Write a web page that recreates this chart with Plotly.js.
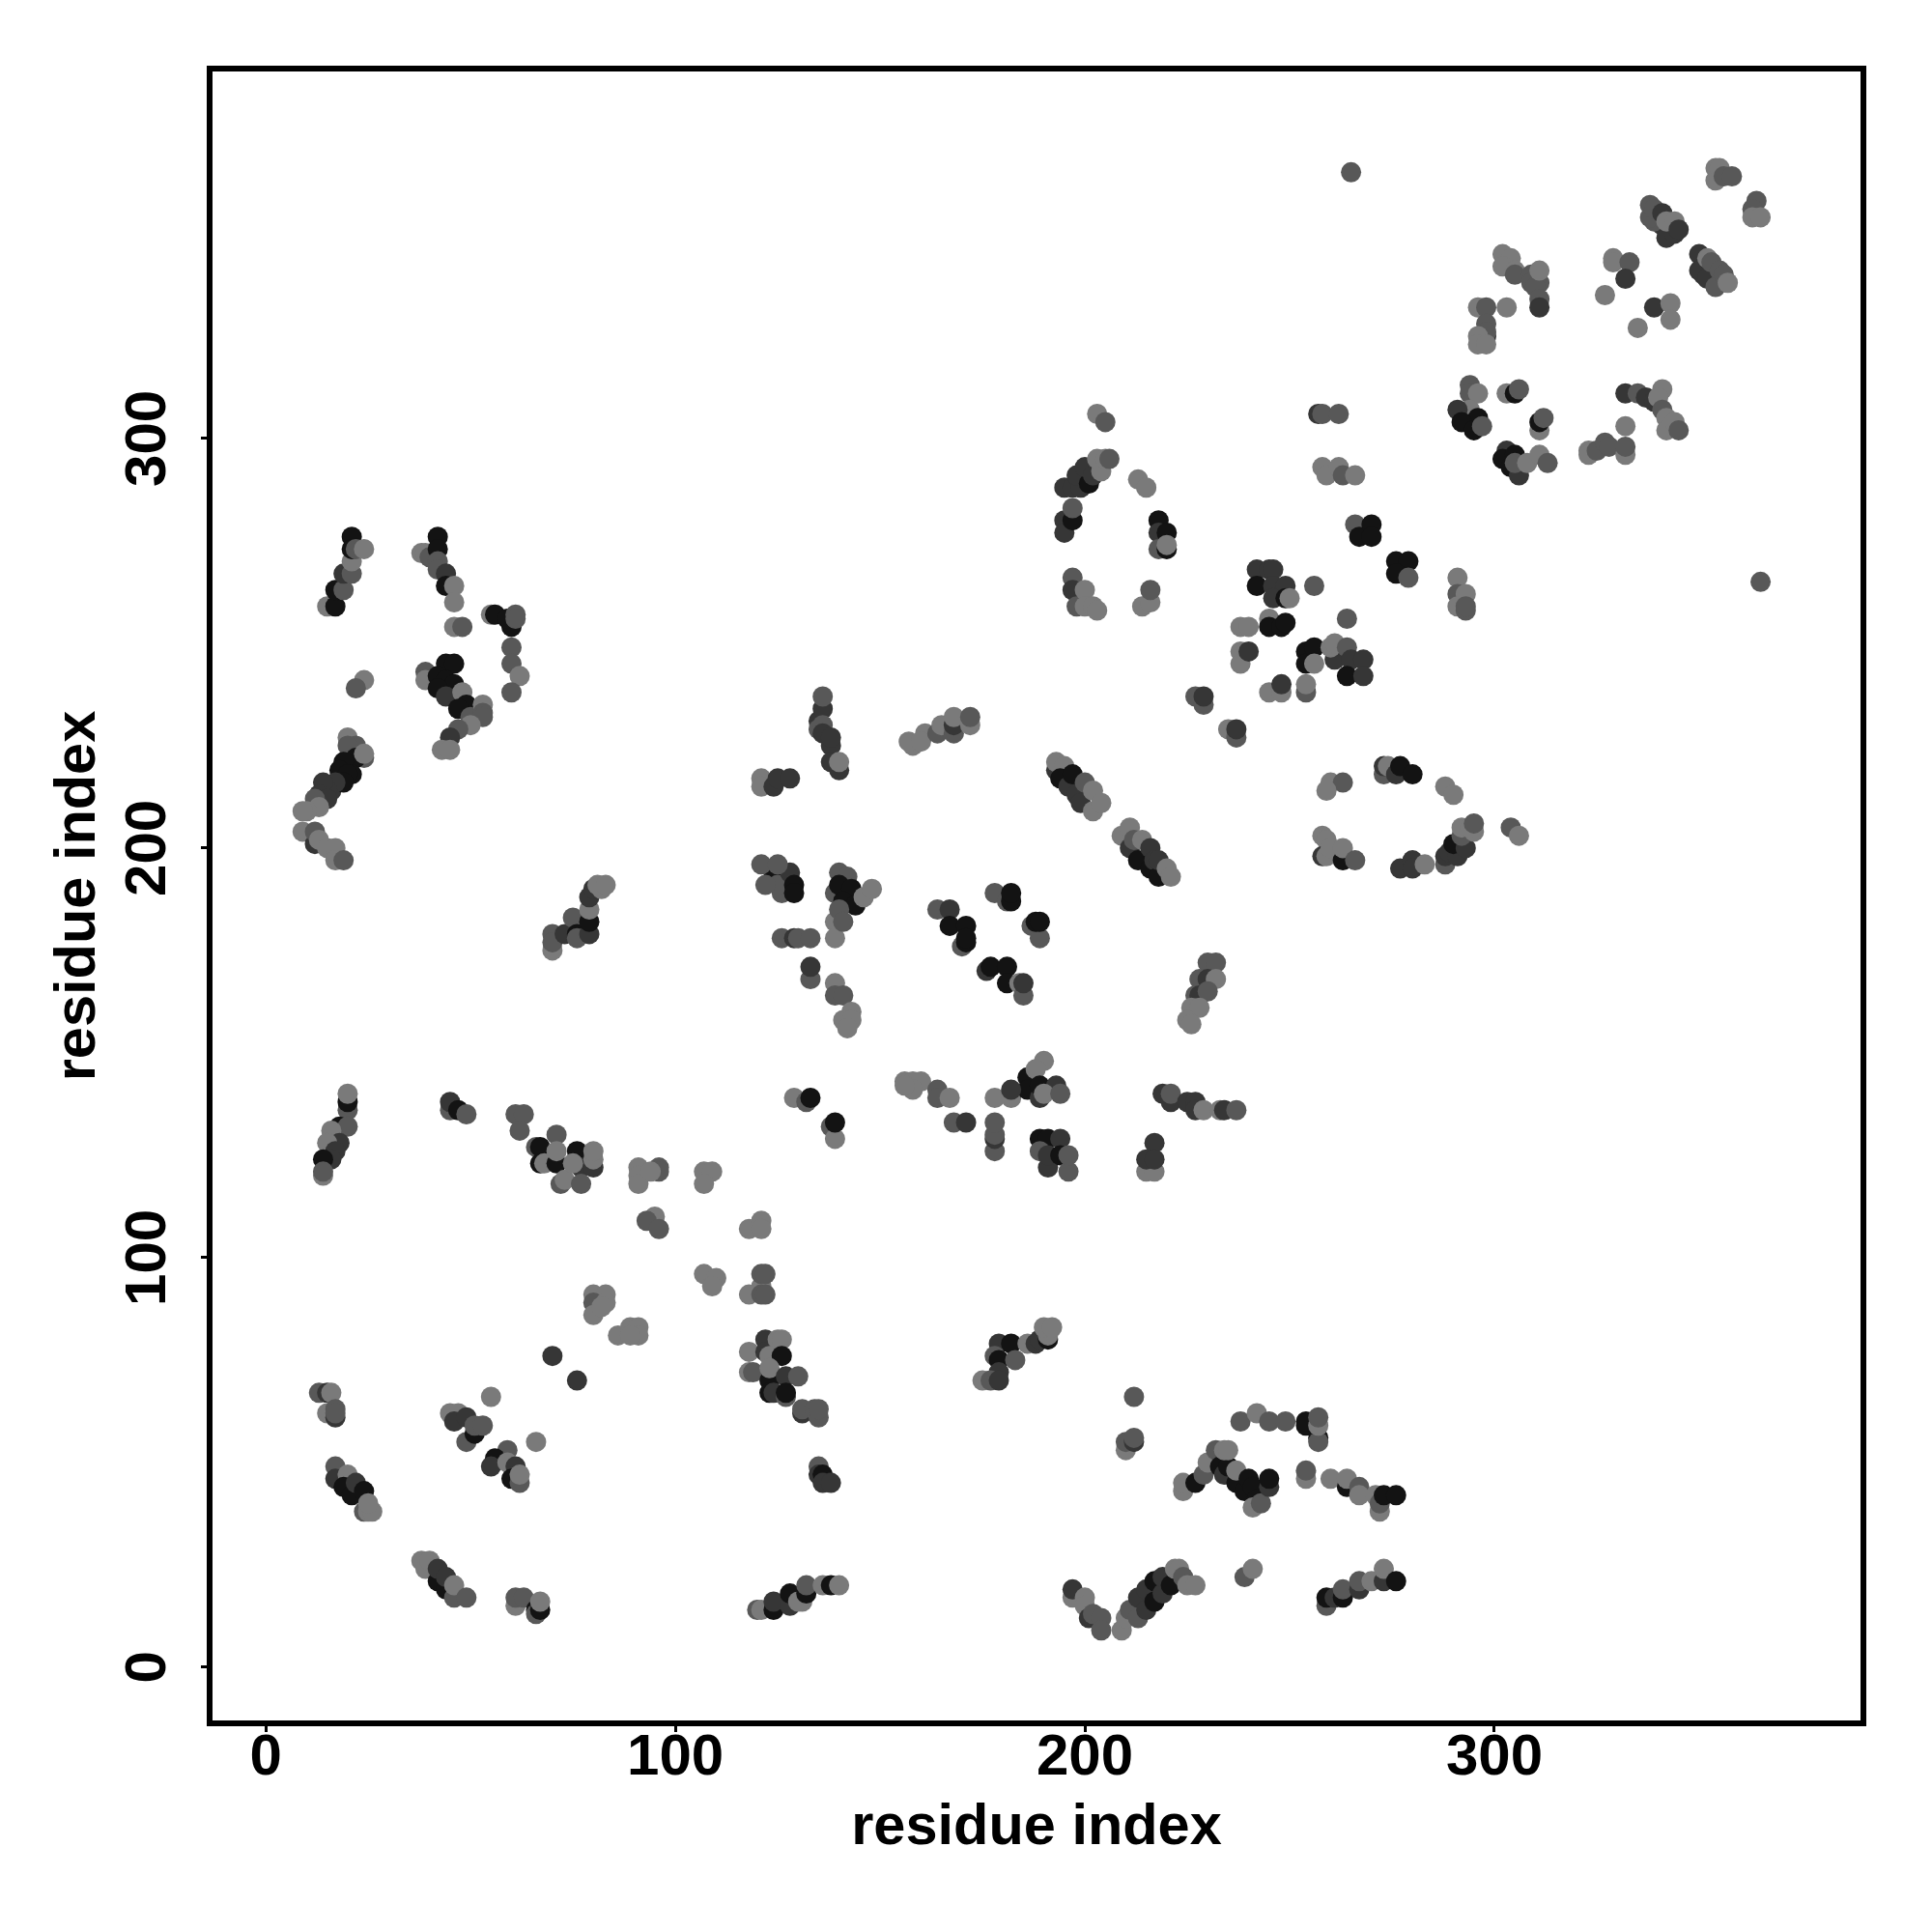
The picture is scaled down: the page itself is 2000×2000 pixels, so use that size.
<!DOCTYPE html>
<html>
<head>
<meta charset="utf-8">
<script src="https://cdn.plot.ly/plotly-3.0.1.min.js"></script>
<style>html,body{margin:0;padding:0;background:#fff}#chart{width:2000px;height:2000px}</style>
</head>
<body>
<div id="chart"></div>
<script>
const residueI = [
340,341,343,351,351,353,355,339,16,18,14,238,236,
15,17,17,19,19,21,21,21,21,22,24,
38,39,40,42,42,42,42,44,44,46,46,46,48,
55,56,60,59,61,61,60,60,62,60,
39,39,44,46,42,44,46,42,44,48,49,47,50,53,53,53,50,47,45,43,45,
24,22,
20,22,20,24,22,19,21,18,20,19,17,15,14,13,15,12,13,10,9,24,
9,12,12,13,15,17,17,19,
70,70,70,73,75,76,76,79,79,79,79,80,82,81,83,
20,20,20,18,20,16,18,15,17,16,14,14,14,
45,45,47,49,
61,63,62,
71,66,67,67,68,71,76,77,80,71,72,73,75,77,80,80,
91,91,91,96,96,94,
95,93,96,
80,83,80,83,80,82,
86,89,91,91,89,
70,76,55,
13,15,16,15,17,17,17,
45,47,46,49,49,51,51,53,
66,59,56,55,59,61,60,62,62,
17,17,20,19,21,22,24,24,25,26,25,
38,39,40,42,44,42,44,46,46,49,
61,61,63,66,66,67,67,
135,136,136,135,136,136,138,138,138,140,140,
121,121,124,125,128,
158,157,161,160,164,165,168,168,168,172,172,
193,193,195,194,196,197,198,199,200,202,202,204,
209,211,211,213,212,214,216,216,217,218,218,220,221,
124,126,125,128,129,129,121,122,125,
139,140,142,140,143,141,144,146,148,139,139,140,141,
126,129,130,133,
133,133,
139,139,141,143,141,143,142,
164,167,167,171,170,171,171,
178,181,182,182,
187,189,188,189,
176,177,181,181,184,185,185,
129,132,133,
138,139,139,
107,109,107,
118,121,121,
107,110,109,
121,118,121,122,121,122,
122,118,122,125,126,123,126,118,119,123,123,124,123,127,130,127,127,
131,131,134,135,135,
156,158,160,158,156,
164,164,167,
168,171,
178,182,
178,178,178,178,
190,186,188,186,182,189,189,193,190,194,
189,191,194,189,191,191,194,196,196,
217,215,217,215,217,
212,
179,182,186,188,189,191,191,190,192,
178,179,183,179,175,177,179,
135,135,136,136,138,
120,121,124,124,128,128,131,130,132,132,136,138,140,
203,205,
195,197,199,198,201,200,202,204,203,205,206,
213,215,
195,195,197,197,
218,218,220,218,220,220,
197,197,198,200,200,202,203,
214,216,216,
257,258,262,
258,259,262,263,266,
266,267,270,270,
276,279,276,279,
291,291,291,293,293,293,
242,245,246,242,246,249,246,249,250,
256,264,238,240,
245,245,248,249,
238,238,240,
254,254,256,256,
261,260,261,264,265,268,264,268,
245,248,248,254,254,
227,229,229,
235,237,237,
265,365,
354,354,355,356,358,
364,363,363,365,
338,338,339,342,344,341,342,344,345,
350,350,352,352,353,355,354,356,357,
302,304,302,305,305,309,309,311,310,311,311,311,
296,298,303,298,298,298,296,296,298,
329,329,333,332,327,
339,343,343,335,
294,294,296,294,291,296,292,295,297,
303,305,306,
311,311,312,
332,335,337,339,341,340,341,342,342,344,345,332,
323,323,325,327,328,332,332,
303,302,304,305,306,305,308,311,313,
260,263,259,
273,273,274,276,277,280,
288,290,304,306,
258,259,258,259,260,263,263,266,
277,280,280,283,
288,288,289,291,290,293,292,292,295,294,295,
230,232,228,230,232,227,228,230,226,228,225,226,
219,221,221,225,227,227,229,233,234,237,
210,210,212,212,
238,242,245,249,
254,254,257,257,257,257,
254,254,
260,264,264,267,267,271,272,272,273,276,
224,224,227,229,230,
232,233,234,235,234,235,237,237,239,240,241,242,241,243,245,245,
197,197,200,200,201,202,204,204,
209,210,211,213,213,215,215,217,217,219,219,221,222,223,224,225,227,
239,241,
259,259,261,263,263,267,267,270,273,273,276
];
const residueJ = [
355,352,351,343,340,339,338,353,214,217,213,46,48,
259,259,263,263,267,267,270,276,273,273,273,
272,272,271,276,273,270,268,267,264,264,260,254,254,
257,257,254,256,257,256,249,245,242,238,
243,241,245,245,242,241,240,239,237,238,235,234,232,235,233,232,230,229,227,224,224,
241,239,
227,225,225,222,222,221,218,219,218,216,216,214,216,213,212,212,210,209,209,223,
204,201,204,202,200,200,197,197,
179,175,177,179,183,179,178,179,182,185,188,190,190,191,191,
136,138,140,132,132,131,128,128,126,124,124,120,121,
136,138,136,135,
135,135,131,
130,127,127,123,123,123,126,122,122,126,118,119,123,118,124,126,
122,120,118,122,121,121,
110,109,107,
91,91,89,89,86,88,
81,83,83,81,81,
76,70,66,
67,67,67,62,63,61,62,
62,62,60,61,55,57,59,59,
55,53,51,49,50,49,46,45,47,
49,46,47,44,42,45,43,38,38,38,40,
26,24,26,21,19,24,22,17,20,17,
15,17,17,14,13,14,16,
231,234,237,229,230,228,225,227,221,219,221,
217,215,215,217,217,
225,226,228,226,228,230,228,230,232,230,232,
219,221,220,217,215,218,213,211,216,209,214,211,
203,205,200,197,202,202,195,200,197,193,197,195,193,
193,189,191,194,191,189,196,191,196,
189,194,193,191,190,187,186,188,190,182,178,185,182,
178,178,178,178,
168,171,
167,164,164,160,158,158,156,
185,185,181,181,176,177,178,
189,187,187,189,
181,178,182,182,
170,171,171,167,167,164,167,
139,138,139,
132,129,133,
121,121,118,
107,109,107,
96,95,93,
93,91,96,96,91,91,
80,77,77,80,80,76,76,72,72,70,67,67,73,71,71,66,67,
62,63,63,61,63,
143,143,143,141,142,
141,139,139,
133,133,
139,139,
126,129,130,133,
148,144,146,141,141,139,142,142,140,140,
129,129,129,126,122,125,125,121,125,
128,121,121,124,124,
66,
79,79,79,79,80,80,81,83,83,
76,75,75,72,70,70,70,
49,47,47,45,45,
14,14,14,16,15,18,16,16,18,20,20,20,20,
306,304,
288,288,288,291,289,293,291,292,295,295,295,
290,288,
280,277,280,283,
280,277,277,273,273,274,
266,263,259,263,259,259,258,
259,260,263,
306,306,306,
293,291,293,291,291,
279,276,279,276,
270,270,267,266,
266,262,259,262,258,259,
268,268,268,264,264,264,261,261,261,
264,256,254,254,
256,254,254,255,
248,245,248,
248,245,249,245,
246,249,250,249,246,246,242,242,
238,238,240,238,240,
237,235,237,
229,227,229,
365,265,
363,366,366,364,364,
358,356,354,354,
354,357,356,349,350,355,353,353,351,
345,341,344,339,343,341,337,340,338,
345,344,342,341,340,340,338,338,337,334,332,341,
332,332,332,328,325,326,325,323,323,
344,343,343,339,335,
332,333,329,327,
313,311,311,307,307,305,304,302,303,
311,311,312,
302,304,305,
311,311,310,309,312,310,307,305,302,304,302,303,
297,296,297,299,298,296,298,
297,295,293,296,291,294,294,296,294,
216,216,214,
218,220,220,218,220,218,
215,213,205,203,
203,202,198,198,200,197,200,197,
195,197,195,196,
196,198,199,198,201,200,203,205,204,205,206,
172,172,168,168,168,164,164,165,161,161,158,157,
140,138,140,138,138,136,136,136,136,136,
53,55,55,56,
60,62,60,60,
59,60,56,55,59,61,
46,48,
46,44,46,44,42,42,38,40,42,42,
43,45,45,47,50,
53,49,47,49,53,53,45,48,43,46,44,41,39,40,44,46,
17,19,17,15,12,13,12,9,
9,12,14,12,17,14,19,16,21,18,22,20,24,24,22,20,20,
22,24,
15,17,17,17,19,19,21,21,21,24,21
];
const shadeScore = [
7,4,4,4,4,7,7,7,4,1,4,1,1,
10,1,1,7,4,7,10,1,1,7,10,
10,10,7,1,1,7,7,4,1,10,10,10,7,
10,1,1,1,7,7,7,7,10,7,
7,10,1,1,1,1,1,1,4,10,1,1,7,10,7,7,10,7,4,10,10,
10,7,
10,7,7,7,1,1,1,1,1,1,4,4,4,4,4,7,10,10,10,10,
10,4,7,10,10,10,10,7,
7,10,7,4,7,1,7,4,1,10,4,4,10,10,10,
7,1,10,1,7,10,4,10,4,4,1,10,7,
7,4,1,7,
7,7,7,
7,7,1,1,10,1,1,4,4,10,7,10,10,7,10,10,
10,10,10,7,7,10,
10,7,7,
10,10,7,10,10,10,
10,10,10,10,10,
4,4,10,
7,4,10,10,7,4,7,
10,10,4,4,7,1,7,7,
10,7,1,4,10,4,1,7,10,
7,4,10,1,1,4,1,7,10,10,10,
10,10,10,1,1,4,4,7,10,7,
10,7,7,1,7,1,10,
4,4,7,7,7,4,4,4,4,4,10,
10,10,4,4,4,
10,10,10,10,7,10,7,4,10,10,7,
4,10,10,1,4,1,4,4,7,10,10,10,
10,10,4,1,7,10,1,4,4,1,4,10,10,
1,7,7,4,1,1,7,7,7,
7,7,7,1,1,1,1,10,10,10,10,7,7,
7,4,7,7,
7,4,
10,7,7,10,10,10,10,
7,4,1,1,7,1,1,
7,7,1,1,
7,7,1,1,
4,1,1,1,10,7,4,
10,7,1,
7,10,1,
10,10,10,
10,10,10,
10,10,10,
10,10,7,7,7,7,
4,10,4,10,10,10,1,10,7,1,1,4,10,4,7,7,1,
4,7,7,7,7,
10,10,10,10,10,
7,7,10,
7,4,
10,10,
7,4,7,7,
10,1,10,1,4,4,1,4,10,7,
1,1,4,7,4,4,1,7,7,
4,10,10,4,4,
7,
4,1,10,4,4,1,10,10,10,
7,1,7,4,10,7,4,
7,4,1,4,4,
7,10,1,4,4,1,10,10,1,7,10,1,10,
10,7,
4,4,4,4,1,4,4,10,10,10,7,
10,10,
4,4,1,7,
1,4,1,7,1,10,
7,4,7,10,10,10,10,
10,10,7,
4,7,7,
10,10,10,7,10,
7,1,1,1,
1,1,1,7,
10,7,10,10,7,7,
4,4,4,1,4,4,4,1,10,
7,7,10,10,
10,1,1,1,
10,10,4,
1,1,1,10,
4,10,10,7,4,4,1,4,
10,10,4,7,10,
7,7,4,
10,7,4,
7,7,
10,10,10,7,7,
7,7,10,10,
7,7,7,4,4,4,10,10,4,
4,4,10,4,7,7,7,7,10,
10,10,10,10,7,7,7,7,7,7,4,10,
10,7,10,7,4,7,10,10,10,
10,10,7,4,10,
4,10,10,10,
7,7,10,10,4,1,1,1,7,
10,1,7,
10,1,7,
4,7,4,4,10,10,7,10,10,10,7,10,
10,10,7,7,7,10,7,
4,1,1,1,4,7,10,10,7,
10,7,10,
7,4,10,4,1,1,
10,10,7,10,
10,10,4,10,10,1,10,7,
4,4,4,10,
7,4,4,4,1,4,7,10,10,10,7,
7,7,7,4,10,7,4,7,10,10,10,10,
4,4,7,4,4,4,10,10,4,7,
10,7,4,7,
7,10,7,7,
1,1,1,7,10,7,
10,7,
10,1,10,7,10,10,10,7,1,1,
10,10,1,7,10,
7,1,4,1,10,10,1,10,1,1,1,1,10,7,4,1,
10,4,10,10,4,7,7,7,
10,10,7,7,4,4,4,1,1,4,4,1,10,10,7,10,10,
7,10,
7,1,4,1,7,4,7,10,4,10,1
];
const tickValues = [0, 100, 200, 300];
const axisLabel = "residue index";

const fontFamily = '"Liberation Sans", Arial, sans-serif';
const axisBase = {
  tickmode: 'array', tickvals: tickValues, ticktext: tickValues.map(String),
  showgrid: false, zeroline: false, showline: true, mirror: true,
  linecolor: '#000', linewidth: 6,
  ticks: 'outside', ticklen: 6, tickwidth: 3, tickcolor: '#000',
  tickfont: {family: fontFamily, size: 60, color: '#000', weight: 'bold'}
};
Plotly.newPlot('chart', [{
  type: 'scatter', mode: 'markers',
  x: residueI, y: residueJ,
  marker: {size: 21, color: shadeScore, cmin: 0, cmax: 10,
    colorscale: [[0, '#080808'], [1, '#7a7a7a']], showscale: false, line: {width: 0}},
  hoverinfo: 'x+y'
}], {
  width: 2000, height: 2000,
  paper_bgcolor: '#fff', plot_bgcolor: '#fff', showlegend: false,
  margin: {l: 220, r: 74, t: 74, b: 219, pad: 0},
  xaxis: Object.assign({}, axisBase, {
    range: [-13, 389.4], tickangle: 0, ticklabelstandoff: -28,
    title: {text: axisLabel, standoff: 20, font: {family: fontFamily, size: 59.5, color: '#000', weight: 'bold'}}
  }),
  yaxis: Object.assign({}, axisBase, {
    range: [-13, 389.6], tickangle: -90, ticklabelstandoff: 13, ticklabelshift: 9,
    title: {text: axisLabel, standoff: 1, font: {family: fontFamily, size: 59.5, color: '#000', weight: 'bold'}}
  })
}, {staticPlot: true});
</script>
</body>
</html>
